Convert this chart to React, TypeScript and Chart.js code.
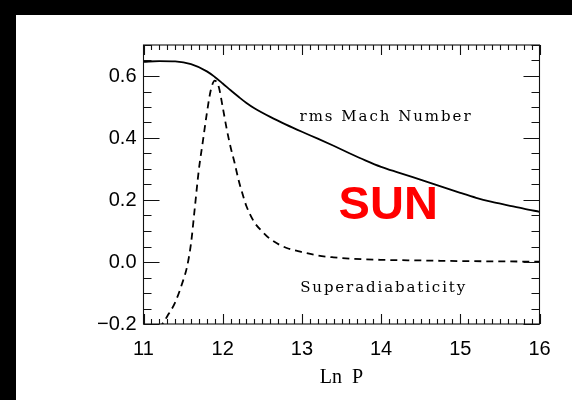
import { useEffect, useRef } from "react";
import { Chart, registerables } from "chart.js";

Chart.register(...registerables);

// rms Mach number versus ln P
const machLnP = [11.0, 11.2, 11.4, 11.6, 11.8, 11.9, 12.0, 12.1, 12.2, 12.3, 12.4, 12.6, 12.8, 13.0, 13.2, 13.4, 13.6, 13.8, 14.0, 14.2, 14.4, 14.6, 14.8, 15.0, 15.2, 15.4, 15.6, 15.8, 16.0];
const machNumber = [0.646, 0.648, 0.647, 0.638, 0.615, 0.597, 0.576, 0.554, 0.533, 0.513, 0.496, 0.468, 0.443, 0.42, 0.398, 0.375, 0.351, 0.328, 0.307, 0.29, 0.274, 0.257, 0.24, 0.223, 0.207, 0.194, 0.183, 0.172, 0.162];

// superadiabaticity versus ln P
const superLnP = [11.2, 11.3, 11.4, 11.5, 11.55, 11.6, 11.65, 11.7, 11.75, 11.8, 11.85, 11.9, 11.95, 12.0, 12.05, 12.1, 12.15, 12.2, 12.25, 12.3, 12.4, 12.5, 12.6, 12.8, 13.0, 13.2, 13.4, 13.6, 14.0, 14.5, 15.0, 15.5, 16.0];
const superadiabaticity = [-0.215, -0.175, -0.13, -0.06, -0.015, 0.06, 0.18, 0.3, 0.39, 0.48, 0.555, 0.585, 0.565, 0.5, 0.43, 0.37, 0.32, 0.265, 0.22, 0.18, 0.128, 0.098, 0.074, 0.046, 0.032, 0.021, 0.015, 0.011, 0.007, 0.005, 0.003, 0.002, 0.001];

// axis tick labels
const xTicks = [11, 12, 13, 14, 15, 16];
const yTicks = [-0.2, 0.0, 0.2, 0.4, 0.6];

const X_MIN = 11;
const X_MAX = 16;
const Y_MIN = -0.2;
const Y_MAX = 0.7;

const fmtY = (v: number) => (v < 0 ? "\u2212" + Math.abs(v).toFixed(1) : v.toFixed(1));

const sansFont = "'Liberation Sans', Arial, Helvetica, sans-serif";
const serifFont = "'Liberation Serif', 'Times New Roman', serif";
const labelFont = "'DejaVu Serif', 'Liberation Serif', serif";

function drawSpaced(ctx: CanvasRenderingContext2D, text: string, cx: number, cy: number, width: number) {
  ctx.save();
  (ctx as any).letterSpacing = "0px";
  const w0 = ctx.measureText(text).width;
  const n = text.length;
  const sp = n > 1 ? (width - w0) / (n - 1) : 0;
  (ctx as any).letterSpacing = sp + "px";
  ctx.textAlign = "left";
  ctx.textBaseline = "middle";
  ctx.fillText(text, cx - width / 2, cy);
  ctx.restore();
}

const framePlugin = {
  id: "frameAndTicks",
  beforeDraw(chart: any) {
    const { ctx, width, height } = chart;
    ctx.save();
    ctx.fillStyle = "#000";
    ctx.fillRect(0, 0, width, height);
    ctx.fillStyle = "#fff";
    ctx.fillRect(16, 15, width - 16, height - 15);
    ctx.restore();
  },
  afterDraw(chart: any) {
    const { ctx, chartArea } = chart;
    const xs = chart.scales.x;
    const ys = chart.scales.y;
    const { left, right, top, bottom } = chartArea;
    ctx.save();
    ctx.strokeStyle = "#111";
    ctx.lineWidth = 1.1;
    ctx.strokeRect(left, top, right - left, bottom - top);
    ctx.beginPath();
    for (let i = 0; i <= 50; i++) {
      const px = Math.round(xs.getPixelForValue(X_MIN + i * 0.1)) + 0.5;
      const len = i % 10 === 0 ? 10 : 5;
      ctx.moveTo(px, bottom);
      ctx.lineTo(px, bottom - len);
      ctx.moveTo(px, top);
      ctx.lineTo(px, top + len);
    }
    for (let i = 0; i <= 18; i++) {
      const py = Math.round(ys.getPixelForValue(Y_MIN + i * 0.05)) + 0.5;
      const len = i % 4 === 0 ? 16 : 8;
      ctx.moveTo(left, py);
      ctx.lineTo(left + len, py);
      ctx.moveTo(right, py);
      ctx.lineTo(right - len, py);
    }
    ctx.stroke();

    // curve labels
    ctx.fillStyle = "#000";
    ctx.font = `15px ${labelFont}`;
    drawSpaced(ctx, "rms Mach Number", xs.getPixelForValue(14.05), ys.getPixelForValue(0.469), 171);
    drawSpaced(ctx, "Superadiabaticity", xs.getPixelForValue(14.02), ys.getPixelForValue(-0.084), 165);

    ctx.fillStyle = "#ff0000";
    ctx.font = `bold 47px ${sansFont}`;
    ctx.textAlign = "center";
    ctx.textBaseline = "middle";
    ctx.fillText("SUN", xs.getPixelForValue(14.09), ys.getPixelForValue(0.18));
    ctx.restore();
  },
};

export default function App() {
  const canvasRef = useRef<HTMLCanvasElement | null>(null);

  useEffect(() => {
    const canvas = canvasRef.current;
    if (!canvas) return;
    const chart = new Chart(canvas, {
      type: "line",
      data: {
        datasets: [
          {
            label: "rms Mach Number",
            data: machLnP.map((x, i) => ({ x, y: machNumber[i] })),
            borderColor: "#000",
            borderWidth: 1.8,
            pointRadius: 0,
            cubicInterpolationMode: "monotone",
            fill: false,
          },
          {
            label: "Superadiabaticity",
            data: superLnP.map((x, i) => ({ x, y: superadiabaticity[i] })),
            borderColor: "#000",
            borderWidth: 1.8,
            borderDash: [7, 5],
            pointRadius: 0,
            cubicInterpolationMode: "monotone",
            fill: false,
          },
        ],
      },
      options: {
        responsive: false,
        animation: false,
        devicePixelRatio: 1,
        layout: { padding: { top: 45, right: 32.5, bottom: 0, left: 0 } },
        plugins: { legend: { display: false }, tooltip: { enabled: false } },
        scales: {
          x: {
            type: "linear",
            min: X_MIN,
            max: X_MAX,
            grid: { display: false, drawTicks: false },
            border: { display: false },
            afterBuildTicks: (s: any) => {
              s.ticks = xTicks.map((v) => ({ value: v }));
            },
            afterFit: (s: any) => {
              s.height = 76;
            },
            ticks: {
              color: "#000",
              padding: 13,
              maxRotation: 0,
              font: { family: sansFont, size: 20 },
              callback: (v: any) => String(v),
            },
            title: {
              display: true,
              text: "Ln  P",
              color: "#000",
              font: { family: serifFont, size: 20 },
              padding: { top: 0, bottom: 10 },
            },
          },
          y: {
            type: "linear",
            min: Y_MIN,
            max: Y_MAX,
            grid: { display: false, drawTicks: false },
            border: { display: false },
            afterBuildTicks: (s: any) => {
              s.ticks = yTicks.map((v) => ({ value: v }));
            },
            afterFit: (s: any) => {
              s.width = 143.5;
            },
            ticks: {
              color: "#000",
              padding: 7,
              font: { family: sansFont, size: 20 },
              callback: (v: any) => fmtY(Number(v)),
            },
          },
        },
      },
      plugins: [framePlugin],
    } as any);
    return () => chart.destroy();
  }, []);

  return (
    <div style={{ position: "fixed", left: 0, top: 0, width: 572, height: 400 }}>
      <canvas ref={canvasRef} width={572} height={400} style={{ display: "block" }} />
    </div>
  );
}
